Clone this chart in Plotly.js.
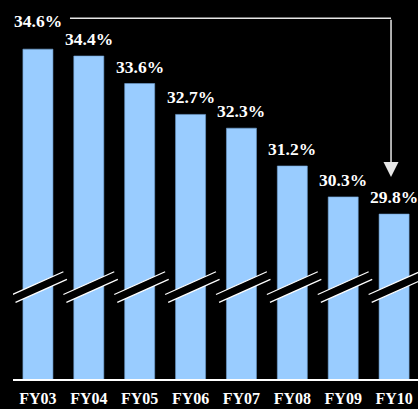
<!DOCTYPE html>
<html>
<head>
<meta charset="utf-8">
<script src="https://cdn.plot.ly/plotly-3.0.1.min.js"></script>
<style>
html,body{margin:0;padding:0;background:#000;}
#chart{width:418px;height:409px;}
</style>
</head>
<body>
<div id="chart"></div>
<script>
// Data
const categories = ["FY03", "FY04", "FY05", "FY06", "FY07", "FY08", "FY09", "FY10"];
const values = [34.6, 34.4, 33.6, 32.7, 32.3, 31.2, 30.3, 29.8];

const FONT = "'Liberation Serif', 'Times New Roman', Times, serif";
const arrowColor = "#e6e6e6";

const trace = {
  type: "bar",
  x: categories,
  y: values,
  marker: {color: "#99ccff", line: {color: "#6f9fd0", width: 0.6}},
  width: 0.59,
  hoverinfo: "skip"
};

// value labels
const annotations = values.map((v, i) => ({
  x: categories[i], y: v, xref: "x", yref: "y",
  text: "<b>" + v.toFixed(1) + "%</b>",
  showarrow: false, yanchor: "middle", xanchor: "center",
  yshift: i === 0 ? 28 : 17,
  font: {family: FONT, size: 17.5, color: "#ffffff"}
}));

// arrow from FY03 to FY10 (vertical part with head)
const yTop = 35.5;
annotations.push({
  x: 6.94, y: 30.88, xref: "x", yref: "y",
  ax: 6.94, ay: yTop, axref: "x", ayref: "y",
  showarrow: true, arrowhead: 2, arrowsize: 2.0, arrowwidth: 1.5,
  arrowcolor: arrowColor, text: ""
});

const shapes = [{
  type: "line", xref: "x", yref: "y",
  x0: 0.63, x1: 6.94, y0: yTop, y1: yTop,
  line: {color: arrowColor, width: 1.5}
}];

// axis-break markers on each bar
categories.forEach((c, i) => {
  const tl = [i - 0.5, 27.46], tr = [i + 0.5, 28.12];
  const bl = [i - 0.44, 27.23], br = [i + 0.57, 27.90];
  shapes.push({
    type: "path", xref: "x", yref: "y",
    path: `M ${tl[0]},${tl[1]} L ${tr[0]},${tr[1]} L ${br[0]},${br[1]} L ${bl[0]},${bl[1]} Z`,
    fillcolor: "#000000", line: {width: 0}
  });
  shapes.push({type: "line", xref: "x", yref: "y", x0: tl[0], y0: tl[1], x1: tr[0], y1: tr[1], line: {color: "#ffffff", width: 1.2}});
  shapes.push({type: "line", xref: "x", yref: "y", x0: bl[0], y0: bl[1], x1: br[0], y1: br[1], line: {color: "#ffffff", width: 1.2}});
});

const layout = {
  width: 418, height: 409,
  margin: {l: 13, r: 0, t: 0, b: 30},
  paper_bgcolor: "#000000", plot_bgcolor: "#000000",
  showlegend: false,
  xaxis: {
    type: "category", range: [-0.49, 7.47],
    showline: true, linecolor: "#ffffff", linewidth: 2,
    ticks: "outside", ticklen: 4, tickcolor: "rgba(0,0,0,0)",
    showgrid: false, zeroline: false,
    tickfont: {family: FONT, size: 16, color: "#ffffff", weight: "bold"}
  },
  yaxis: {
    range: [25, 36.03], visible: false, showgrid: false, zeroline: false
  },
  annotations: annotations,
  shapes: shapes
};

Plotly.newPlot("chart", [trace], layout, {displayModeBar: false, staticPlot: true});
</script>
</body>
</html>
